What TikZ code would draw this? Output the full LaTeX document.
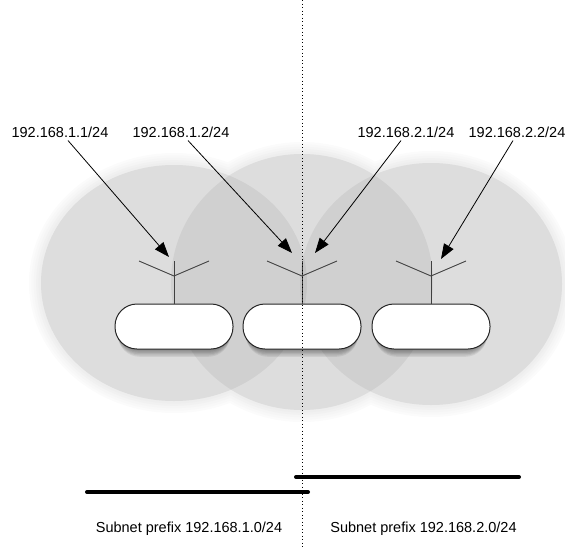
\documentclass[tikz,border=0pt]{standalone}
\usepackage{fontspec}
\setmainfont{Liberation Sans}
\usetikzlibrary{arrows.meta}
\begin{document}
\begin{tikzpicture}[x=1pt,y=-1pt,
  lbl/.style={font=\fontsize{14.5}{17}\selectfont, inner sep=0pt, anchor=center},
  pill/.style={draw=black!85, line width=1pt, fill=white, rounded corners=22pt,
    minimum width=118pt, minimum height=45pt, inner sep=0pt},
  ant/.style={draw=black!75, line width=0.9pt},
  ptr/.style={draw=black, line width=0.8pt, -{Triangle[length=15pt,width=11pt]}},
  bar/.style={line width=4pt, line cap=round},
  divider/.style={line width=1pt, dash pattern=on 1.3pt off 2.2pt}]
\useasboundingbox (0,0) rectangle (565,549);
% coverage areas
\begin{scope}
\clip (0,0) rectangle (565,549);
\foreach \k in {0,...,5}{
  \pgfmathsetmacro{\p}{(\k+1)/6*8.2}
  \foreach \cx/\cy/\rx/\ry in {174/283/145/130, 302/282/143/140, 431/284/143/133}{
    \fill[black!\p] (\cx,\cy) ellipse [x radius={\rx-2.4*\k}, y radius={\ry-2.4*\k}];
  }
}
\foreach \cx/\cy/\rx/\ry in {174/283/145/130, 302/282/143/140, 431/284/143/133}{
  \fill[black, opacity=0.055] (\cx,\cy) ellipse [x radius={\rx-12}, y radius={\ry-12}];
}
\end{scope}
% soft shadows of the routers
\foreach \cx in {174,302,431}{
  \foreach \j in {1,...,6}{
    \fill[black, opacity=0.07, rounded corners=22pt]
      (\cx-58+0.3*\j,306+0.9*\j) rectangle (\cx+58-0.3*\j,349+1.3*\j);
  }
}
% routers
\node[pill] (b1) at (174,326.5) {};
\node[pill] (b2) at (302,326.5) {};
\node[pill] (b3) at (431,326.5) {};
% antennas
\foreach \b/\x in {b1/174, b2/302, b3/431}{
  \draw[ant] (\b.north) -- (\x,261);
  \draw[ant] (\x-35,261) -- (\x,276) -- (\x+35,261);
}
% labels
\node[lbl] (l1) at (60,132) {192.168.1.1/24};
\node[lbl] (l2) at (181,132) {192.168.1.2/24};
\node[lbl] (l3) at (406,132) {192.168.2.1/24};
\node[lbl] (l4) at (517,132) {192.168.2.2/24};
\coordinate (t1) at (169,257);
\coordinate (t2) at (292,253);
\coordinate (t3) at (315,253);
\coordinate (t4) at (441,259);
\draw[ptr] ([xshift=8pt,yshift=-3pt]l1.south) -- (t1);
\draw[ptr] ([xshift=7pt,yshift=-3pt]l2.south) -- (t2);
\draw[ptr] ([xshift=-5pt,yshift=-3pt]l3.south) -- (t3);
\draw[ptr] ([xshift=-4pt,yshift=-3pt]l4.south) -- (t4);
% divider
\coordinate (dtop) at (302,0);
\coordinate (dbot) at (302,549);
\draw[divider] (dtop) -- (dbot);
% subnet bars
\draw[bar] (87,492) -- (308,492);
\draw[bar] (296,477) -- (519,477);
\node[lbl] (s1) at (189,529) {Subnet prefix 192.168.1.0/24};
\node[lbl] (s2) at (423.5,529) {Subnet prefix 192.168.2.0/24};
\end{tikzpicture}
\end{document}
